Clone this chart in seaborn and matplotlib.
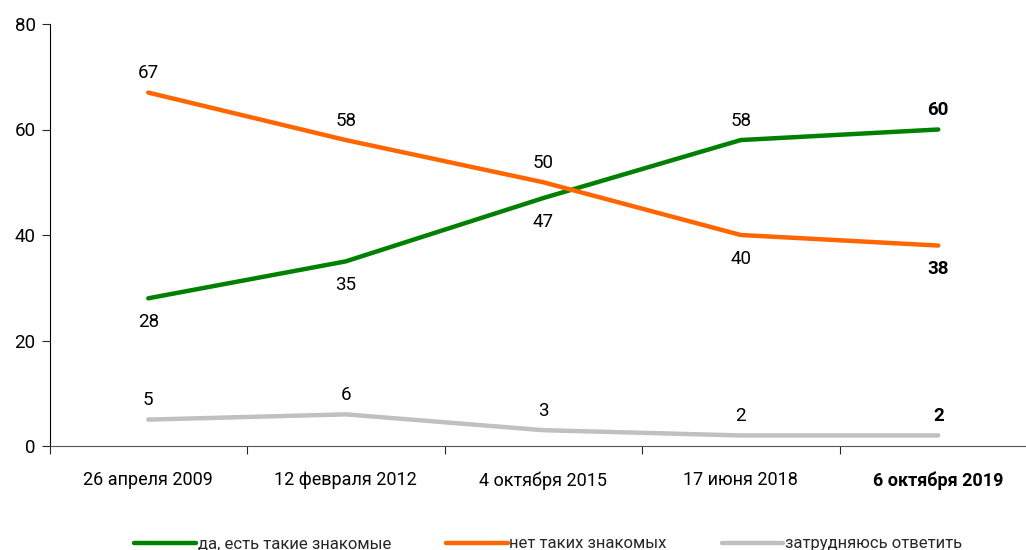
import pandas as pd
import matplotlib.pyplot as plt
import seaborn as sns

dates = ['26 апреля 2009', '12 февраля 2012', '4 октября 2015', '17 июня 2018', '6 октября 2019']
yes_vals = [28, 35, 47, 58, 60]
no_vals = [67, 58, 50, 40, 38]
hard_vals = [5, 6, 3, 2, 2]
series_names = ['да, есть такие знакомые', 'нет таких знакомых', 'затрудняюсь ответить']

df = pd.DataFrame({
    'x': list(range(len(dates))) * 3,
    'value': yes_vals + no_vals + hard_vals,
    'series': [s for s in series_names for _ in dates],
})

sns.set_style('white')
plt.rcParams['font.family'] = ['Roboto', 'DejaVu Sans']

colors = {series_names[0]: '#008000', series_names[1]: '#ff6600', series_names[2]: '#c0c0c0'}

fig = plt.figure(figsize=(10.26, 5.5), dpi=100)
ax = fig.add_axes([49.5 / 1026, 104 / 550, (1037 - 49.5) / 1026, 422 / 550])

sns.lineplot(data=df, x='x', y='value', hue='series', palette=colors, linewidth=3.2,
             solid_capstyle='round', ax=ax, legend=True)

# data labels: offsets in points (positive = above)
offsets = {
    series_names[0]: [-17, -17, -17, 14, 14],
    series_names[1]: [14, 14, 14, -17, -17],
    series_names[2]: [14, 14, 14, 14, 14],
}
for name, vals in zip(series_names, [yes_vals, no_vals, hard_vals]):
    for i, v in enumerate(vals):
        ax.annotate(str(v), (i, v), xytext=(0, offsets[name][i]), textcoords='offset points',
                    ha='center', va='center', fontsize=13.5, color='black',
                    fontweight='bold' if i == len(dates) - 1 else 'normal')

ax.set_xlim(-0.5, len(dates) - 0.5)
ax.set_ylim(0, 80)
ax.set_yticks([0, 20, 40, 60, 80])
ax.set_xticks([i + 0.5 for i in range(-1, len(dates) - 1)], minor=False)
ax.set_xticklabels([])
ax.set_xticks(range(len(dates)), minor=True)
ax.set_xticklabels(dates, minor=True, fontsize=13)
for i, lbl in enumerate(ax.get_xticklabels(minor=True)):
    if i == len(dates) - 1:
        lbl.set_fontweight('bold')
ax.tick_params(axis='x', which='minor', length=0, pad=18, labelcolor='black')
ax.tick_params(axis='x', which='major', length=6, width=0.8, direction='out', bottom=True)
ax.tick_params(axis='y', length=6, width=0.8, direction='out', left=True, labelsize=13.5,
               pad=4, labelcolor='black')
ax.set_xlabel('')
ax.set_ylabel('')

for side in ['top', 'right']:
    ax.spines[side].set_visible(False)
ax.spines['left'].set_color('black')
ax.spines['left'].set_linewidth(0.8)
ax.spines['bottom'].set_color('#555555')
ax.spines['bottom'].set_linewidth(0.8)

handles, labels = ax.get_legend_handles_labels()
ax.legend(handles, labels, loc='center', bbox_to_anchor=(0.505, -0.232), ncol=3, frameon=False,
          fontsize=12, handlelength=3.7, columnspacing=3.3, handletextpad=0.1)

fig.savefig('out.png', dpi=100)
